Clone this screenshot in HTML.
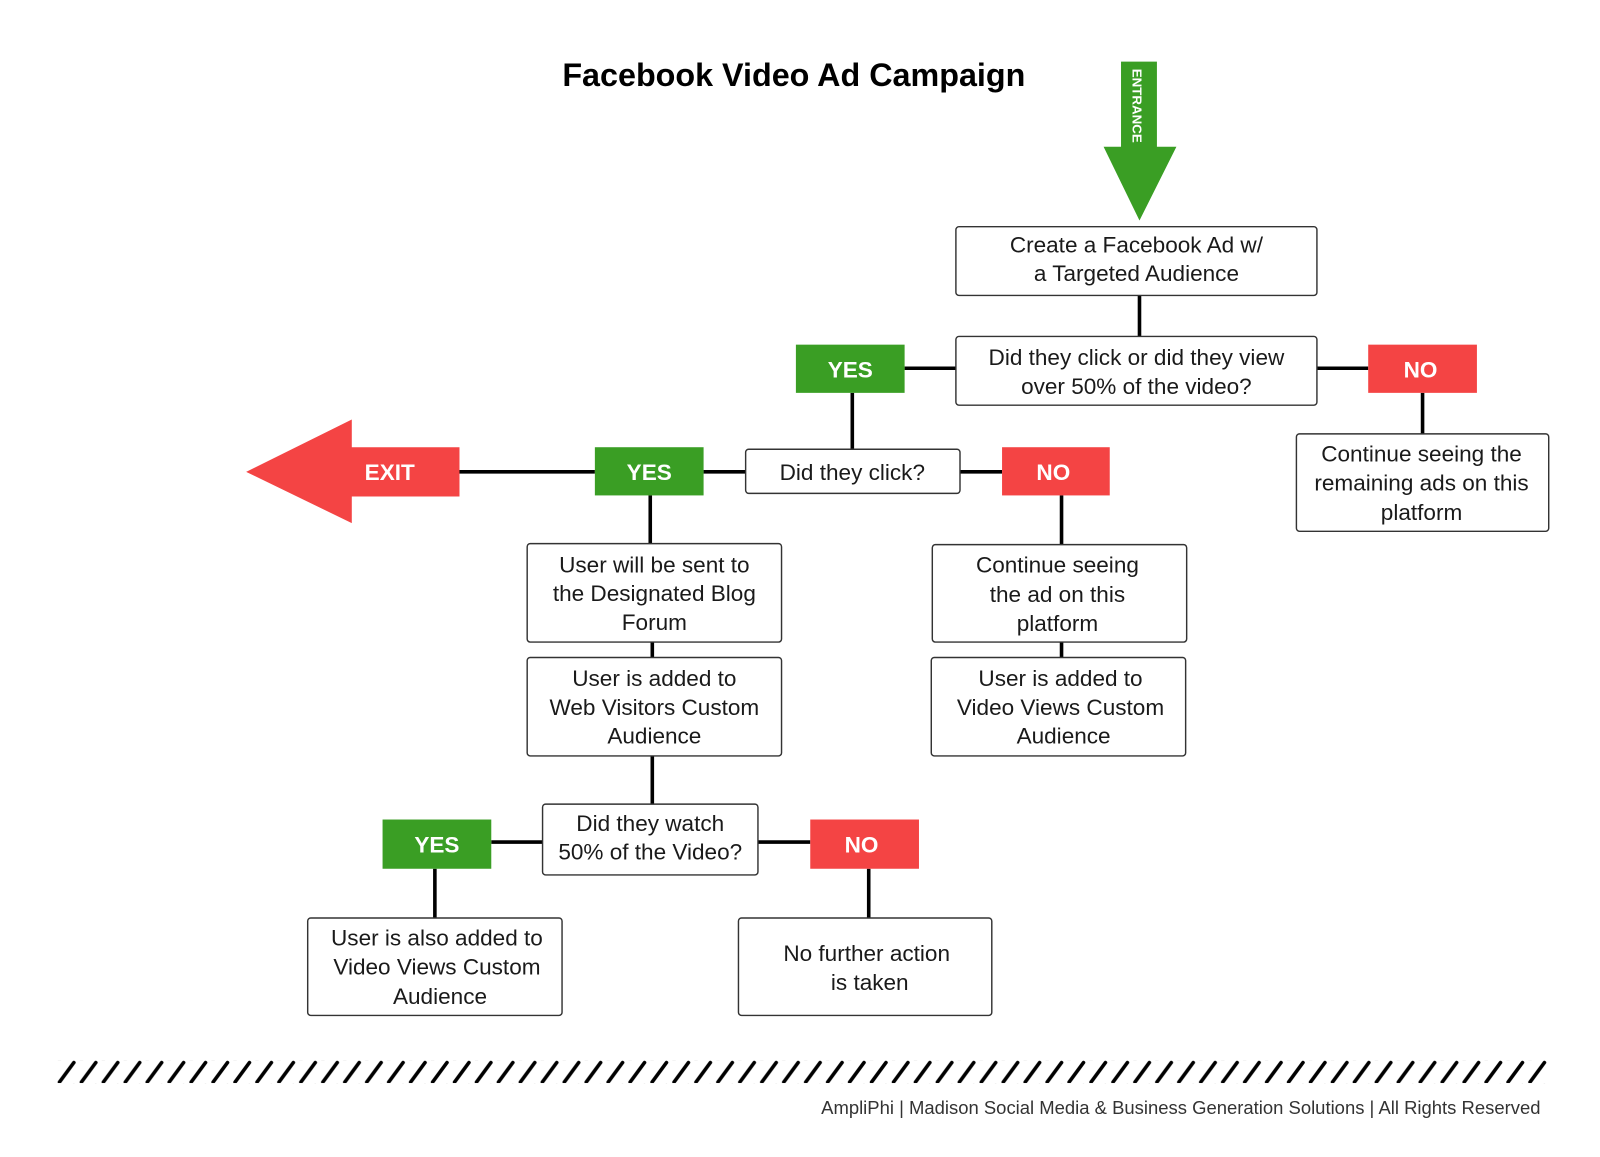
<!DOCTYPE html>
<html><head><meta charset="utf-8"><style>
html,body{margin:0;padding:0;background:#fff;}
svg{display:block;}
text{font-family:"Liberation Sans",sans-serif;}
.b{fill:#fff;stroke:#333;stroke-width:1.4;}
.t{font-size:22px;fill:#1a1a1a;text-anchor:middle;}
.l{stroke:#000;stroke-width:3.5;fill:none;}
.lb{font-size:22px;font-weight:bold;fill:#fff;text-anchor:middle;}
</style></head><body>
<svg width="1600" height="1157" viewBox="0 0 1560 1128" xmlns="http://www.w3.org/2000/svg">
<text x="774" y="84" font-size="31.5" font-weight="bold" text-anchor="middle" fill="#000">Facebook Video Ad Campaign</text>
<!-- entrance arrow -->
<polygon points="1093,60 1128,60 1128,143 1147,143 1111,215 1076,143 1093,143" fill="#3a9e24"/>
<text x="0" y="0" transform="translate(1104,67) rotate(90)" font-size="13" font-weight="bold" fill="#fff">ENTRANCE</text>
<!-- connectors -->
<path class="l" d="M1111,288V328 M882,359H932 M1284,359H1334 M1387,383V423 M831,383V438 M686,460H727 M936,460H977 M448,460H580 M634,483V530 M636,626V641 M636,737V784 M479,821H529 M739,821H790 M424,847V895 M847,847V895 M1035,483V531 M1035,626V641"/>
<!-- boxes -->
<rect class="b" x="932" y="221" width="352" height="67" rx="3"/>
<text class="t" x="1108" y="246">Create a Facebook Ad w/</text>
<text class="t" x="1108" y="274">a Targeted Audience</text>
<rect class="b" x="932" y="328" width="352" height="67" rx="3"/>
<text class="t" x="1108" y="356">Did they click or did they view</text>
<text class="t" x="1108" y="384">over 50% of the video?</text>
<rect class="b" x="1264" y="423" width="246" height="95" rx="3"/>
<text class="t" x="1386" y="450">Continue seeing the</text>
<text class="t" x="1386" y="478">remaining ads on this</text>
<text class="t" x="1386" y="507">platform</text>
<rect class="b" x="727" y="438" width="209" height="43" rx="3"/>
<text class="t" x="831" y="468">Did they click?</text>
<rect class="b" x="514" y="530" width="248" height="96" rx="3"/>
<text class="t" x="638" y="558">User will be sent to</text>
<text class="t" x="638" y="586">the Designated Blog</text>
<text class="t" x="638" y="614">Forum</text>
<rect class="b" x="514" y="641" width="248" height="96" rx="3"/>
<text class="t" x="638" y="669">User is added to</text>
<text class="t" x="638" y="697">Web Visitors Custom</text>
<text class="t" x="638" y="725">Audience</text>
<rect class="b" x="529" y="784" width="210" height="69" rx="3"/>
<text class="t" x="634" y="810">Did they watch</text>
<text class="t" x="634" y="838">50% of the Video?</text>
<rect class="b" x="300" y="895" width="248" height="95" rx="3"/>
<text class="t" x="426" y="922">User is also added to</text>
<text class="t" x="426" y="950">Video Views Custom</text>
<text class="t" x="429" y="979">Audience</text>
<rect class="b" x="720" y="895" width="247" height="95" rx="3"/>
<text class="t" x="845" y="937">No further action</text>
<text class="t" x="848" y="965">is taken</text>
<rect class="b" x="909" y="531" width="248" height="95" rx="3"/>
<text class="t" x="1031" y="558">Continue seeing</text>
<text class="t" x="1031" y="587">the ad on this</text>
<text class="t" x="1031" y="615">platform</text>
<rect class="b" x="908" y="641" width="248" height="96" rx="3"/>
<text class="t" x="1034" y="669">User is added to</text>
<text class="t" x="1034" y="697">Video Views Custom</text>
<text class="t" x="1037" y="725">Audience</text>
<!-- labels -->
<rect x="776" y="336" width="106" height="47" fill="#3a9e24"/><text class="lb" x="829" y="368">YES</text>
<rect x="1334" y="336" width="106" height="47" fill="#f44444"/><text class="lb" x="1385" y="368">NO</text>
<rect x="580" y="436" width="106" height="47" fill="#3a9e24"/><text class="lb" x="633" y="468">YES</text>
<rect x="977" y="436" width="105" height="47" fill="#f44444"/><text class="lb" x="1027" y="468">NO</text>
<rect x="373" y="799" width="106" height="48" fill="#3a9e24"/><text class="lb" x="426" y="831">YES</text>
<rect x="790" y="799" width="106" height="48" fill="#f44444"/><text class="lb" x="840" y="831">NO</text>
<!-- exit arrow -->
<polygon points="240,460 343,409 343,436 448,436 448,484 343,484 343,510" fill="#f44444"/>
<text class="lb" x="380" y="468">EXIT</text>
<!-- stripes -->
<defs><pattern id="s" x="55" y="1034" width="21.4" height="22" patternUnits="userSpaceOnUse">
<line x1="3" y1="21" x2="17" y2="2" stroke="#000" stroke-width="3.5" stroke-linecap="round"/></pattern></defs>
<rect x="55" y="1034" width="1453" height="22" fill="url(#s)"/>
<text x="1502" y="1086" font-size="18" fill="#333" text-anchor="end">AmpliPhi | Madison Social Media &amp; Business Generation Solutions | All Rights Reserved</text>
</svg>
</body></html>
